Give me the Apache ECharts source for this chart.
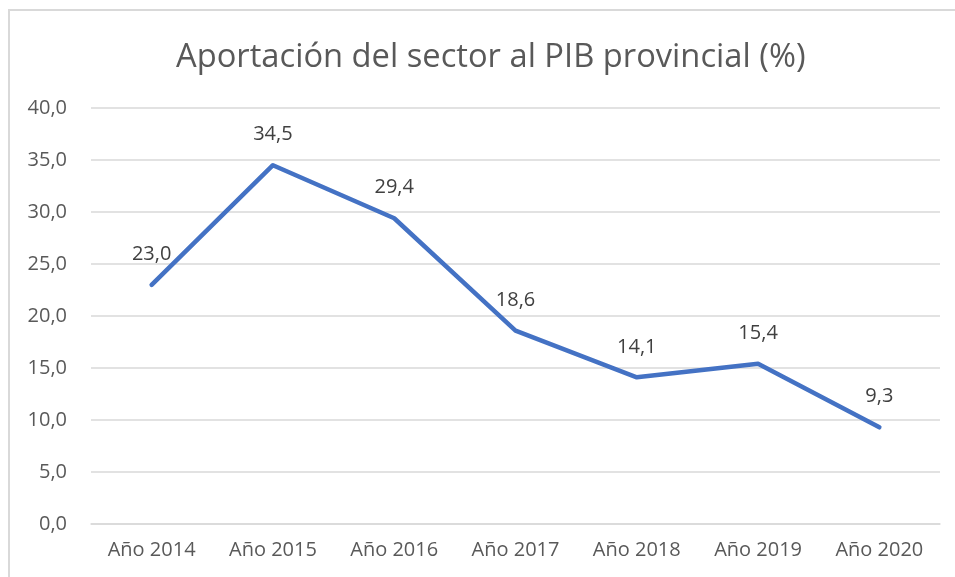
<!DOCTYPE html>
<html>
<head>
<meta charset="utf-8">
<script src="https://cdn.jsdelivr.net/npm/echarts@6/dist/echarts.min.js"></script>
<style>
  html, body { margin: 0; padding: 0; background: #fff; overflow: hidden; }
  #chartDiv { width: 955px; height: 577px; }
  #marco { position: absolute; left: 8px; top: 9px; width: 960px; height: 600px;
           border-left: 2px solid #d9d9d9; border-top: 2px solid #d9d9d9; pointer-events: none; }
</style>
</head>
<body>
<div id="chartDiv"></div>
<div id="marco"></div>
<script>
// datos del gráfico
var categorias = ['Año 2014', 'Año 2015', 'Año 2016', 'Año 2017', 'Año 2018', 'Año 2019', 'Año 2020'];
var aportacion = [23.0, 34.5, 29.4, 18.6, 14.1, 15.4, 9.3];

var fuente = '"Open Sans", "Liberation Sans", sans-serif';
var Chart1 = echarts.init(document.getElementById('chartDiv'));

function coma(v) { return v.toFixed(1).replace('.', ','); }

var option = {
    animation: false,
    title: {
        text: 'Aportación del sector al PIB provincial (%)',
        left: 171,
        top: 36,
        textStyle: { fontFamily: fuente, fontSize: 32.7, fontWeight: 'normal', color: '#595959' }
    },
    grid: { left: 91, right: 15, top: 108, bottom: 53 },
    xAxis: {
        type: 'category',
        data: categorias,
        axisLine: { lineStyle: { color: '#d9d9d9', width: 1.5 } },
        axisTick: { show: false },
        axisLabel: { fontFamily: fuente, fontSize: 20, color: '#595959', margin: 16 }
    },
    yAxis: {
        type: 'value',
        min: 0,
        max: 40,
        interval: 5,
        axisLine: { show: false },
        axisTick: { show: false },
        splitLine: { lineStyle: { color: '#d9d9d9', width: 1.5 } },
        axisLabel: {
            fontFamily: fuente, fontSize: 20, color: '#595959', margin: 24,
            formatter: coma
        }
    },
    series: [{
        type: 'line',
        data: aportacion,
        symbol: 'circle',
        symbolSize: 1,
        itemStyle: { color: '#4472C4' },
        lineStyle: { color: '#4472C4', width: 4.5, cap: 'round', join: 'round' },
        label: {
            show: true,
            position: 'top',
            distance: 20,
            fontFamily: fuente,
            fontSize: 20,
            color: '#404040',
            formatter: function (p) { return coma(p.value); }
        }
    }]
};

Chart1.setOption(option);
</script>
</body>
</html>
